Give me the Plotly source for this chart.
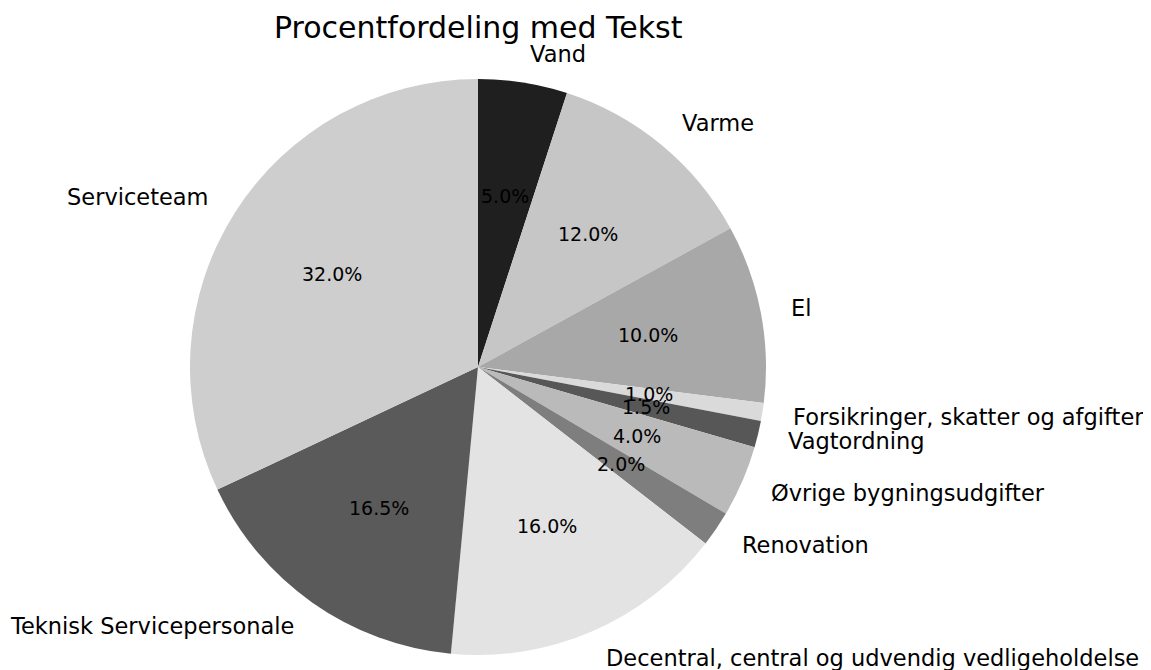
import math
import plotly.graph_objects as go

# ---- data ----
categories = ["Vand", "Varme", "El", "Forsikringer, skatter og afgifter", "Vagtordning",
              "Øvrige bygningsudgifter", "Renovation",
              "Decentral, central og udvendig vedligeholdelse",
              "Teknisk Servicepersonale", "Serviceteam"]
values = [5.0, 12.0, 10.0, 1.0, 1.5, 4.0, 2.0, 16.0, 16.5, 32.0]
colors = ["#1f1f1f", "#c6c6c6", "#a8a8a8", "#dadada", "#575757",
          "#bababa", "#7e7e7e", "#e3e3e3", "#5a5a5a", "#cecece"]
title_text = "Procentfordeling med Tekst"

# ---- layout geometry (screen pixels; page body has an 8px margin) ----
PAGE_W, PAGE_H, BODY = 1151, 670, 8
W, H = PAGE_W - BODY, PAGE_H - BODY
CX, CY, R = 478, 367, 288

FONT = "DejaVu Sans"


def px2paper(x, y):
    return (x - BODY) / W, 1 - (y - BODY) / H


x0, y1 = px2paper(CX - R, CY - R)
x1, y0 = px2paper(CX + R, CY + R)

fig = go.Figure(go.Pie(
    values=values, labels=categories, sort=False, direction="clockwise", rotation=0,
    marker=dict(colors=colors, line=dict(width=0)),
    textinfo="none", showlegend=False, hoverinfo="label+percent",
    domain=dict(x=[x0, x1], y=[y0, y1]),
))

annotations = []
total = sum(values)
cum = 0.0
for name, v in zip(categories, values):
    mid = cum + v / 2
    cum += v
    ang = math.radians(90 - 360 * mid / total)
    c, s = math.cos(ang), math.sin(ang)
    # percentage at 0.6 r
    px, py = px2paper(CX + 0.6 * R * c, CY - 0.6 * R * s)
    annotations.append(dict(x=px, y=py, xref="paper", yref="paper", showarrow=False,
                            text=f"{v / total * 100:.1f}%", xanchor="center", yanchor="middle",
                            font=dict(family=FONT, size=19, color="black")))
    # label at 1.1 r
    lx, ly = px2paper(CX + 1.1 * R * c, CY - 1.1 * R * s)
    annotations.append(dict(x=lx, y=ly, xref="paper", yref="paper", showarrow=False,
                            text=name, xanchor="left" if c > 0 else "right", yanchor="middle",
                            font=dict(family=FONT, size=22.5, color="black")))

tx, ty = px2paper(CX, 27)
annotations.append(dict(x=tx, y=ty, xref="paper", yref="paper", showarrow=False,
                        text=title_text, xanchor="center", yanchor="middle",
                        font=dict(family=FONT, size=30, color="black")))

fig.update_layout(width=W, height=H, margin=dict(l=0, r=0, t=0, b=0),
                  paper_bgcolor="white", plot_bgcolor="white",
                  annotations=annotations)

fig.write_html("out.html")
